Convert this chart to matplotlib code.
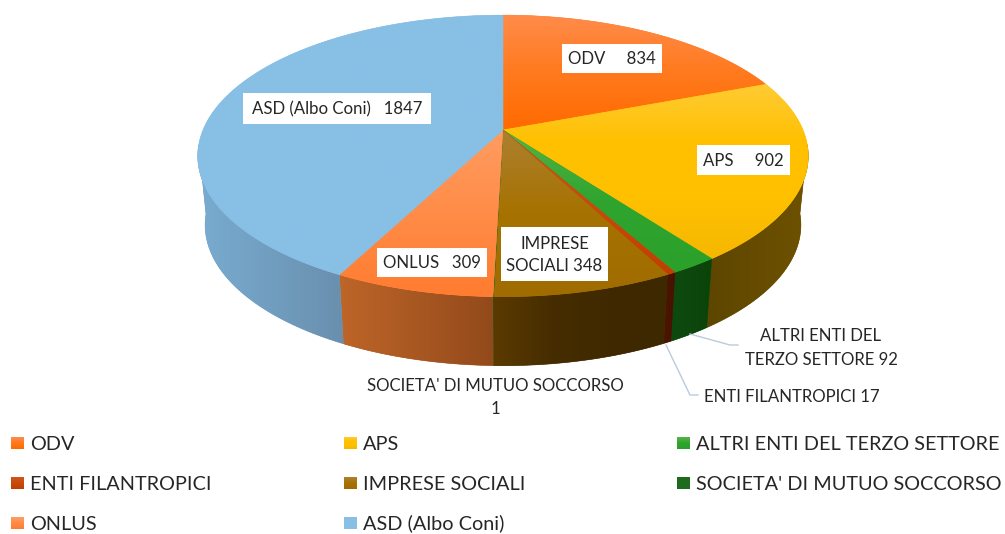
import numpy as np
import matplotlib
matplotlib.use("Agg")
import matplotlib.pyplot as plt
from matplotlib.colors import to_rgb
from matplotlib.patches import Polygon, Rectangle

plt.rcParams["font.family"] = ["Lato", "DejaVu Sans"]

# data
categories = ["ODV", "APS", "ALTRI ENTI DEL TERZO SETTORE", "ENTI FILANTROPICI",
              "IMPRESE SOCIALI", "SOCIETA' DI MUTUO SOCCORSO", "ONLUS", "ASD (Albo Coni)"]
values = [834, 902, 92, 17, 348, 1, 309, 1847]

# top face gradient stops from upper to lower, side wall gradient from left to right
top_colors = [("#FF8B4A", "#FF7A1E", "#FF6A00"),
              ("#FFCB33", "#FFC000", "#FFC000", "#F5B800"),
              ("#55B345", "#2FA52F", "#2BA12B"),
              ("#D0551A", "#C04000"),
              ("#AD8030", "#A67200", "#A06C00"),
              ("#1E6B1E", "#1E6B1E"),
              ("#FF9C60", "#FF7C30"),
              ("#88BFE5", "#88BFE5")]
wall_colors = [("#7A3A00", "#7A3A00"), ("#5E4600", "#6E5200"), ("#0E4A10", "#0B4409"),
               ("#4D1500", "#451200"), ("#5B3A00", "#462D00", "#402900", "#3E2800"),
               ("#124A12", "#124A12"), ("#BE6528", "#934A1B"), ("#78ACD0", "#6A8FAE")]

# pie geometry in pixels
cx, cy = 503, 130
a, b, k = 300, 136, 0.184
depth = 69
shrink = 0.976


def project(theta):
    # theta clockwise from 12 o'clock, perspective view of the disc
    x = np.sin(theta)
    y = -np.cos(theta)
    w = 1 - k * y
    return cx + a * x / w, cy + b * y / w


def ramp(stops, n=64):
    stops = np.array([to_rgb(c) for c in stops])
    t = np.linspace(0, 1, n)
    pos = np.linspace(0, 1, len(stops))
    return np.stack([np.interp(t, pos, stops[:, c]) for c in range(3)], axis=-1)


def fill_gradient(ax, pts, stops, horizontal=False, zorder=2):
    # flat polygon below gives the smooth edge, clipped image gives the shading
    base = tuple(ramp(stops)[32])
    ax.add_patch(Polygon(pts, closed=True, facecolor=base, edgecolor=base, linewidth=0.4, zorder=zorder))
    xs = [p[0] for p in pts]
    ys = [p[1] for p in pts]
    grad = ramp(stops)
    grad = grad[np.newaxis, :, :] if horizontal else grad[:, np.newaxis, :]
    im = ax.imshow(grad, extent=(min(xs), max(xs), max(ys), min(ys)), origin="upper",
                   aspect="auto", interpolation="bilinear", zorder=zorder)
    im.set_clip_path(Polygon(pts, closed=True, transform=ax.transData))


fig = plt.figure(figsize=(10.05, 5.34), dpi=100)
ax = fig.add_axes([0, 0, 1, 1])

fracs = np.array(values) / sum(values)
edges = np.concatenate([[0], np.cumsum(fracs)]) * 2 * np.pi

# side walls
for i in range(len(values)):
    n = max(2, int((edges[i + 1] - edges[i]) / np.radians(0.5)))
    th = np.linspace(edges[i], edges[i + 1], n + 1)
    th = th[-np.cos(th) >= 0.1]
    if len(th) < 2:
        continue
    X, Y = project(th)
    upper = list(zip(X, Y))
    lower = list(zip(cx + (X - cx) * shrink, Y + depth))
    fill_gradient(ax, upper + lower[::-1], wall_colors[i], horizontal=True, zorder=1)

# top face
for i in range(len(values)):
    n = max(2, int((edges[i + 1] - edges[i]) / np.radians(0.5)))
    th = np.linspace(edges[i], edges[i + 1], n + 1)
    X, Y = project(th)
    fill_gradient(ax, [(cx, cy)] + list(zip(X, Y)), top_colors[i], zorder=2)

ax.axis("off")

# data labels
txt = "#262626"
boxes = [(562, 44, 100, 29, "ODV     834"),
         (697, 145, 93, 30, "APS     902"),
         (377, 248, 110, 29, "ONLUS   309"),
         (501, 227, 107, 54, "IMPRESE\nSOCIALI 348"),
         (243, 93, 188, 31, "ASD (Albo Coni)   1847")]
for x, y, w, h, s in boxes:
    ax.add_patch(Rectangle((x, y), w, h, facecolor="white", edgecolor="none", zorder=3))
    ax.text(x + w / 2, y + h / 2 + 1, s, ha="center", va="center", fontsize=12.1, color=txt,
            linespacing=1.5, zorder=4)

ax.text(495, 397.5, "SOCIETA' DI MUTUO SOCCORSO\n1", ha="center", va="center", fontsize=12.1,
        color=txt, linespacing=1.55)
ax.text(821, 348, "ALTRI ENTI DEL\nTERZO SETTORE 92", ha="center", va="center", fontsize=12.1,
        color=txt, linespacing=1.55)
ax.text(704, 397, "ENTI FILANTROPICI 17", ha="left", va="center", fontsize=12.1, color=txt)

# leader lines
ax.plot([690, 730, 738], [334, 345, 345], color="#B9CBDD", lw=1, zorder=3)
ax.plot([666, 690, 698], [345, 395, 395], color="#B9CBDD", lw=1, zorder=3)

# legend
legend_x = [11, 344, 677]
legend_y = [443, 483, 523]
for n in range(len(categories)):
    lx = legend_x[n % 3]
    ly = legend_y[n // 3]
    grad = ramp(top_colors[n], 16)[:, np.newaxis, :]
    ax.imshow(grad, extent=(lx, lx + 13, ly + 6, ly - 6), origin="upper", aspect="auto", zorder=2)
    ax.text(lx + 19, ly + 6.5, categories[n], ha="left", va="baseline", fontsize=14.3, color=txt)

ax.set_xlim(0, 1005)
ax.set_ylim(534, 0)
ax.set_aspect("auto")

fig.savefig("out.png", dpi=100)
